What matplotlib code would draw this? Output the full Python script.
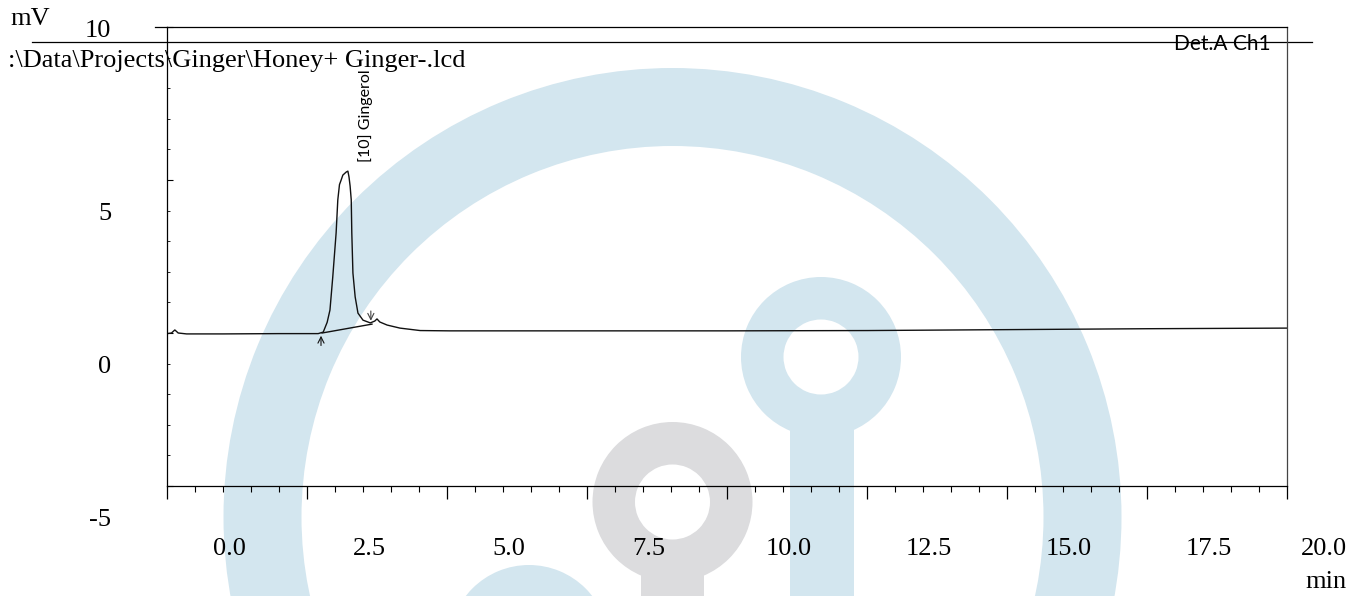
import matplotlib
matplotlib.use("Agg")
import matplotlib.pyplot as plt
from matplotlib.patches import Wedge, Rectangle
from matplotlib.lines import Line2D
from matplotlib.transforms import IdentityTransform
from matplotlib.ticker import MultipleLocator

# Chromatogram trace: retention time (min) and detector signal (mV)
time_min = [0.00, 0.08, 0.14, 0.20, 0.35, 1.00, 2.00, 2.70, 2.79, 2.86, 2.91,
            2.96, 3.02, 3.05, 3.08, 3.11, 3.14, 3.20, 3.23, 3.25, 3.27, 3.29,
            3.30, 3.32, 3.36, 3.41, 3.50, 3.63, 3.71, 3.75, 3.80, 3.93, 4.16,
            4.52, 5.05, 7.50, 10.00, 12.50, 15.00, 17.50, 20.00]
signal_mv = [-0.02, 0.00, 0.10, 0.00, -0.03, -0.03, -0.02, -0.02, 0.03, 0.35, 0.75,
             1.83, 3.27, 4.35, 4.85, 5.00, 5.16, 5.26, 5.29, 5.10, 4.80, 4.35,
             3.27, 1.96, 1.18, 0.65, 0.42, 0.33, 0.39, 0.46, 0.36, 0.26, 0.16,
             0.08, 0.07, 0.07, 0.07, 0.08, 0.11, 0.14, 0.16]

# Integration of the Gingerol peak: start / end points of the drawn baseline
peak_start = (2.77, 0.00)
peak_end = (3.66, 0.29)
peak_apex_time = 3.55
peak_label = "[10] Gingerol"

x_ticks = [0.0, 2.5, 5.0, 7.5, 10.0, 12.5, 15.0, 17.5, 20.0]
x_tick_labels = ["0.0", "2.5", "5.0", "7.5", "10.0", "12.5", "15.0", "17.5", "20.0"]
y_ticks = [-5, 0, 5, 10]
y_tick_labels = ["-5", "0", "5", "10"]

file_path = ":\\Data\\Projects\\Ginger\\Honey+ Ginger-.lcd"
channel = "Det.A Ch1"

W, H = 1366, 596
fig = plt.figure(figsize=(W / 100, H / 100), dpi=100)
fig.patch.set_facecolor("white")

serif = ["Liberation Serif", "DejaVu Serif"]
sans = ["Lato", "DejaVu Sans"]
fs = 19

# Background layer in page pixels (origin top-left)
bg = fig.add_axes([0, 0, 1, 1], zorder=-1)
bg.set_xlim(0, W)
bg.set_ylim(H, 0)
bg.axis("off")

blue = "#d3e6ef"
grey = "#dcdcde"
bg.add_patch(Wedge((672.5, 517), 449, 0, 360, width=449 - 371, color=blue, lw=0))
bg.add_patch(Wedge((821, 357), 80, 0, 360, width=80 - 37.5, color=blue, lw=0))
bg.add_patch(Rectangle((790, 430), 64, 200, color=blue, lw=0))
bg.add_patch(Wedge((672.5, 502), 80, 0, 360, width=80 - 37.5, color=grey, lw=0))
bg.add_patch(Rectangle((641, 570), 63, 60, color=grey, lw=0))
bg.add_patch(Wedge((529, 645), 80, 0, 360, width=80 - 37.5, color=blue, lw=0))

# Ruled header line across the page
bg.add_line(Line2D([32, 1312], [42, 42], color="black", lw=0.9, zorder=5))
bg.add_line(Line2D([155, 167], [27, 27], color="black", lw=0.9, zorder=5))

# Plot frame
left, right, top, bottom = 167, 1287, 27, 486
ax = fig.add_axes([left / W, 1 - bottom / H, (right - left) / W, (bottom - top) / H])
ax.patch.set_alpha(0)
ax.set_xlim(0, 20)
ax.set_ylim(-5, 10)
for s in ax.spines.values():
    s.set_linewidth(0.9)
    s.set_color("black")
ax.spines["right"].set_color("#444444")

ax.plot(time_min, signal_mv, color="#111111", lw=1.0)
ax.plot([peak_start[0], peak_end[0]], [peak_start[1], peak_end[1]], color="#111111", lw=1.0)
ax.annotate("", xy=(peak_start[0] - 0.02, peak_start[1]),
            xytext=(peak_start[0] - 0.02, peak_start[1] - 0.5),
            arrowprops=dict(arrowstyle="->", lw=0.8, color="#111111", mutation_scale=11))
ax.annotate("", xy=(peak_end[0] - 0.02, peak_end[1] + 0.02),
            xytext=(peak_end[0] - 0.02, peak_end[1] + 0.52),
            arrowprops=dict(arrowstyle="->", lw=0.8, color="#444444", mutation_scale=11))
ax.text(peak_apex_time, 5.59, peak_label, rotation=90, ha="center", va="bottom",
        fontsize=11.5, family=sans)

ax.xaxis.set_major_locator(MultipleLocator(2.5))
ax.xaxis.set_minor_locator(MultipleLocator(0.5))
ax.yaxis.set_major_locator(MultipleLocator(5))
ax.yaxis.set_minor_locator(MultipleLocator(1))
ax.tick_params(axis="x", which="major", direction="out", length=9.5, width=0.9)
ax.tick_params(axis="x", which="minor", direction="out", length=4.5, width=0.8)
ax.tick_params(axis="y", which="major", direction="in", length=4, width=0.8)
ax.tick_params(axis="y", which="minor", direction="in", length=2, width=0.6)
ax.tick_params(labelbottom=False, labelleft=False)

# Tick labels set off from their ticks, as laid out on the printed page
ident = IdentityTransform()
for val, lab in zip(x_ticks, x_tick_labels):
    px = ax.transData.transform((val, 0))[0] + 62
    px = min(px, 1324)
    fig.text(px, H - 549, lab, transform=ident, ha="center", va="center",
             fontsize=fs, family=serif)
ymax = ax.get_ylim()[1]
for val, lab in zip(y_ticks, y_tick_labels):
    py = H - ax.transData.transform((0, val))[1]
    py += 4 if val >= ymax else 34
    fig.text(111, H - py, lab, transform=ident, ha="right", va="center",
             fontsize=fs, family=serif)

fig.text(10, H - 19, "mV", transform=ident, ha="left", va="center", fontsize=fs, family=serif)
fig.text(1347, H - 582, "min", transform=ident, ha="right", va="center", fontsize=fs, family=serif)
fig.text(8, H - 67, file_path, transform=ident, ha="left", va="baseline", fontsize=fs, family=serif)
fig.text(1271, H - 50, channel, transform=ident, ha="right", va="baseline", fontsize=15, family=sans)

fig.savefig("out.png", dpi=100)
